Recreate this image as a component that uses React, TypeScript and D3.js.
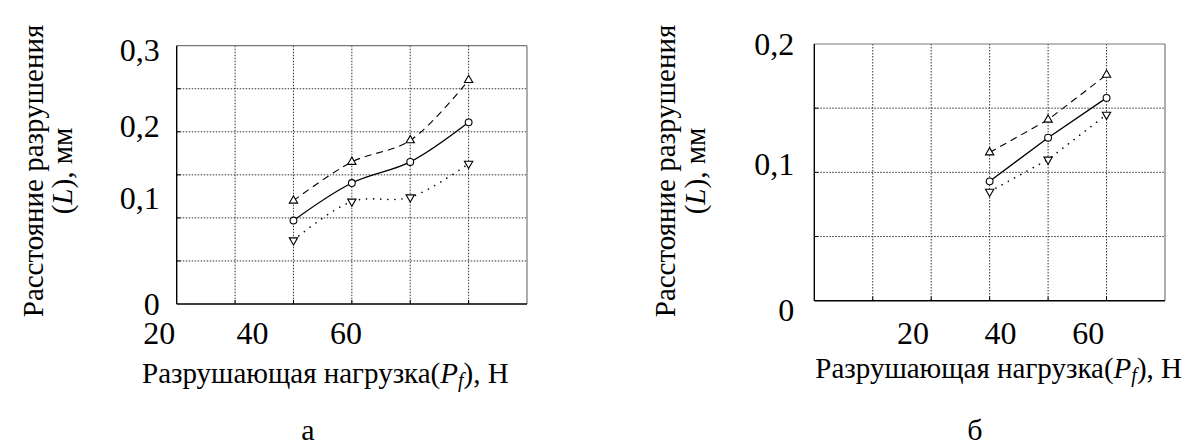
import * as d3 from "d3";

// load values (H) on the grid columns, and fracture distance (mm)
const loadsA = [48.75, 61.25, 73.75, 86.25];
const meanA = [0.097, 0.1405, 0.165, 0.211];
const upperA = [0.12, 0.165, 0.19, 0.26];
const lowerA = [0.074, 0.119, 0.124, 0.163];

const loadsB = [37.5, 50.83, 64.17];
const meanB = [0.093, 0.127, 0.158];
const upperB = [0.1155, 0.141, 0.176];
const lowerB = [0.085, 0.11, 0.145];

const xTickLabels = [20, 40, 60];
const yTicksA = [0, 0.1, 0.2, 0.3];
const yTicksB = [0, 0.1, 0.2];

const yTitle1 = "Расстояние разрушения";
const xTitle = "Разрушающая нагрузка(";

const FONT = '"Liberation Serif", "Times New Roman", serif';
const W = 1192;
const H = 448;

const panels = [
  {
    key: "a",
    left: 176.7, right: 527, top: 45.7, bottom: 304,
    cols: 6, rows: 6,
    xDomain: [23.75, 98.75], yMax: 0.3,
    loads: loadsA, mean: meanA, upper: upperA, lower: lowerA,
    yTicks: yTicksA, yShift: [0, -20, -6, 4], yLabelGap: 17,
    yTitleX: [33, 62], yTitleY: 171,
    xTitleX: 142, xTitleAnchor: "start", xTitleY: 383,
    caption: "а", captionX: 308,
    curve: d3.curveCatmullRom,
  },
  {
    key: "b",
    left: 814.3, right: 1165, top: 44, bottom: 300.7,
    cols: 6, rows: 4,
    xDomain: [-2.5, 77.5], yMax: 0.2,
    loads: loadsB, mean: meanB, upper: upperB, lower: lowerB,
    yTicks: yTicksB, yShift: [9, -8, 0], yLabelGap: 20,
    yTitleX: [665, 695], yTitleY: 171,
    xTitleX: 1182, xTitleAnchor: "end", xTitleY: 378,
    caption: "б", captionX: 975,
    curve: d3.curveLinear,
  },
];

function Panel({ p }: { p: any }) {
  const x = d3.scaleLinear().domain(p.xDomain).range([p.left, p.right]);
  const y = d3.scaleLinear().domain([0, p.yMax]).range([p.bottom, p.top]);

  const xStep = (p.xDomain[1] - p.xDomain[0]) / p.cols;
  const yStep = p.yMax / p.rows;
  const vGrid = d3.range(1, p.cols).map((k) => p.xDomain[0] + k * xStep);
  const hGrid = d3.range(1, p.rows).map((k) => k * yStep);

  const line = d3
    .line<number>()
    .x((_, i) => x(p.loads[i]))
    .y((d) => y(d))
    .curve(p.curve);

  const tri = d3.symbol(d3.symbolTriangle, 30)();

  return (
    <g>
      {/* dotted grid */}
      {vGrid.map((v: number) => (
        <line key={"v" + v} x1={x(v)} x2={x(v)} y1={p.top} y2={p.bottom}
          stroke="#333" strokeWidth={1} strokeDasharray="1.5,1.5" />
      ))}
      {hGrid.map((v: number) => (
        <line key={"h" + v} x1={p.left} x2={p.right} y1={y(v)} y2={y(v)}
          stroke="#333" strokeWidth={1} strokeDasharray="1.5,1.5" />
      ))}
      {/* frame */}
      <line x1={p.left} x2={p.right} y1={p.top} y2={p.top} stroke="#777" strokeWidth={1.2} />
      <line x1={p.right} x2={p.right} y1={p.top} y2={p.bottom} stroke="#777" strokeWidth={1.2} />
      <line x1={p.left} x2={p.left} y1={p.top} y2={p.bottom} stroke="#000" strokeWidth={1.4} />
      <line x1={p.left} x2={p.right} y1={p.bottom} y2={p.bottom} stroke="#000" strokeWidth={1.4} />
      {hGrid.map((v: number) => (
        <line key={"ty" + v} x1={p.left} x2={p.left + 4} y1={y(v)} y2={y(v)} stroke="#000" />
      ))}
      {vGrid.map((v: number) => (
        <line key={"tx" + v} x1={x(v)} x2={x(v)} y1={p.bottom} y2={p.bottom - 4} stroke="#000" />
      ))}

      {/* series */}
      <path d={line(p.upper) || ""} fill="none" stroke="#000" strokeWidth={1.1} strokeDasharray="7,5" />
      <path d={line(p.lower) || ""} fill="none" stroke="#000" strokeWidth={1.6}
        strokeDasharray="0.1,7" strokeLinecap="round" />
      <path d={line(p.mean) || ""} fill="none" stroke="#000" strokeWidth={1.3} />

      {p.upper.map((d: number, i: number) => (
        <path key={"u" + i} d={tri || ""} transform={`translate(${x(p.loads[i])},${y(d)})`}
          fill="#fff" stroke="#000" strokeWidth={1.1} />
      ))}
      {p.lower.map((d: number, i: number) => (
        <path key={"l" + i} d={tri || ""} transform={`translate(${x(p.loads[i])},${y(d)}) rotate(180)`}
          fill="#fff" stroke="#000" strokeWidth={1.1} />
      ))}
      {p.mean.map((d: number, i: number) => (
        <circle key={"m" + i} cx={x(p.loads[i])} cy={y(d)} r={3.4}
          fill="#fff" stroke="#000" strokeWidth={1.1} />
      ))}

      {/* tick labels */}
      {p.yTicks.map((v: number, i: number) => (
        <text key={"yl" + v} x={p.left - p.yLabelGap} y={y(v) + p.yShift[i]}
          textAnchor="end" dominantBaseline="central" fontSize={32}>
          {String(v).replace(".", ",")}
        </text>
      ))}
      {xTickLabels.map((v) => (
        <text key={"xl" + v} x={x(v)} y={333} textAnchor="middle"
          dominantBaseline="central" fontSize={32}>
          {v}
        </text>
      ))}

      {/* axis titles */}
      <text transform={`translate(${p.yTitleX[0]},${p.yTitleY}) rotate(-90)`}
        textAnchor="middle" dominantBaseline="central" fontSize={29}>
        {yTitle1}
      </text>
      <text transform={`translate(${p.yTitleX[1]},${p.yTitleY}) rotate(-90)`}
        textAnchor="middle" dominantBaseline="central" fontSize={29}>
        (<tspan fontStyle="italic">L</tspan>), мм
      </text>
      <text x={p.xTitleX} y={p.xTitleY} textAnchor={p.xTitleAnchor} fontSize={29}>
        {xTitle}
        <tspan fontStyle="italic">P</tspan>
        <tspan fontStyle="italic" fontSize={20} dy={4}>f</tspan>
        <tspan dy={-4}>),</tspan> Н
      </text>
      <text x={p.captionX} y={440} textAnchor="middle" fontSize={30}>
        {p.caption}
      </text>
    </g>
  );
}

export default function App() {
  return (
    <div style={{ position: "absolute", left: 0, top: 0 }}>
      <svg width={W} height={H} style={{ display: "block", background: "#fff", fontFamily: FONT }}>
        <rect width={W} height={H} fill="#fff" />
        {panels.map((p) => (
          <Panel key={p.key} p={p} />
        ))}
      </svg>
    </div>
  );
}
